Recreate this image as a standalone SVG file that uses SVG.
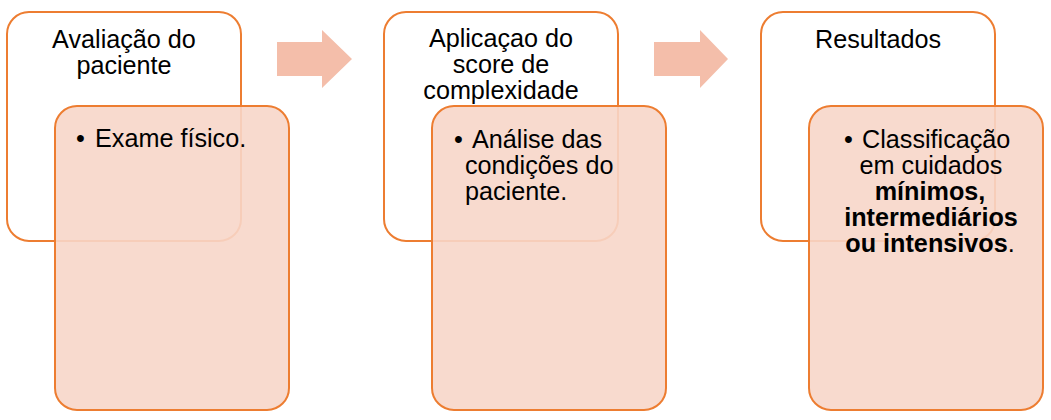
<svg xmlns="http://www.w3.org/2000/svg" width="1051" height="420" viewBox="0 0 1051 420">
<style>
.hdr{fill:#FFFFFF;stroke:#ED7D31;stroke-width:2}
.det{fill:#F7D6C9;fill-opacity:0.9;stroke:#ED7D31;stroke-width:2}
.arr{fill:#F4BEAA}
text{font-family:"Liberation Sans",Arial,sans-serif;font-size:25.2px;fill:#000000}
.c{text-anchor:middle}
.b{font-weight:bold}
</style>
<rect width="1051" height="420" fill="#FFFFFF"/>
<g id="connectors">
<polygon class="arr" points="277,42 322,42 322,30 352,59 322,88 322,76 277,76"/>
<polygon class="arr" points="654,42 700,42 700,30 728,59 700,88 700,76 654,76"/>
</g>
<g id="node-avaliacao">
<rect class="hdr" x="7" y="12" width="234" height="229" rx="22"/>
<text class="c" x="124" y="47.5">Avaliação do</text>
<text class="c" x="124" y="73.5">paciente</text>
</g>
<g id="node-avaliacao-detail">
<rect class="det" x="55" y="106" width="234" height="304" rx="22"/>
<text x="76" y="147">•</text>
<text x="95" y="147">Exame físico.</text>
</g>
<g id="node-aplicacao">
<rect class="hdr" x="384" y="12" width="234" height="229" rx="22"/>
<text class="c" x="501" y="47">Aplicaçao do</text>
<text class="c" x="501" y="73">score de</text>
<text class="c" x="501" y="99">complexidade</text>
</g>
<g id="node-aplicacao-detail">
<rect class="det" x="432" y="106" width="234" height="304" rx="22"/>
<text x="454" y="148">•</text>
<text x="472" y="148">Análise das</text>
<text x="465" y="174">condições do</text>
<text x="465" y="200">paciente.</text>
</g>
<g id="node-resultados">
<rect class="hdr" x="761" y="12" width="234" height="229" rx="22"/>
<text class="c" x="878" y="48">Resultados</text>
</g>
<g id="node-resultados-detail">
<rect class="det" x="809" y="106" width="234" height="304" rx="22"/>
<text x="844" y="148">•</text>
<text x="862" y="148">Classificação</text>
<text class="c" x="931" y="174">em cuidados</text>
<text class="c b" x="930" y="200">mínimos,</text>
<text class="c b" x="931" y="226">intermediários</text>
<text class="c" x="930" y="252"><tspan class="b">ou intensivos</tspan>.</text>
</g>
</svg>
